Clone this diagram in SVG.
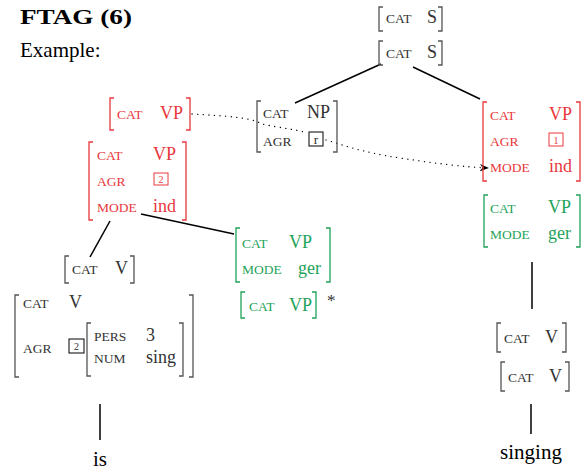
<svg xmlns="http://www.w3.org/2000/svg" width="583" height="472" viewBox="0 0 583 472">
<style>
text{font-family:"Liberation Serif","DejaVu Serif",serif}
.k{font-size:13.5px}
.v{font-size:18px}
.t{font-size:21px}
.g{fill:#333}
.r{fill:#e8383d}
.gr{fill:#1fa35a}
.bg{fill:none;stroke:#555;stroke-width:1.3}
.br{fill:none;stroke:#e8383d;stroke-width:1.3}
.bgr{fill:none;stroke:#1fa35a;stroke-width:1.3}
.e{fill:none;stroke:#000;stroke-width:1.5}
</style>
<defs>
<marker id="ah" viewBox="0 0 10 10" refX="9" refY="5" markerWidth="7" markerHeight="7" orient="auto"><path d="M0,1 L10,5 L0,9 L3,5 Z" fill="#000"/></marker>
</defs>
<rect width="583" height="472" fill="#fff"/>
<g id="title">
<text x="20" y="24" font-size="20" font-weight="bold" textLength="112" lengthAdjust="spacingAndGlyphs">FTAG (6)</text>
<text x="20" y="57" class="t">Example:</text>
</g>
<g id="connectors">
<path class="e" d="M381,64 L295,103"/>
<path class="e" d="M413,67 L480,99"/>
<path class="e" d="M110,221 L90,257"/>
<path class="e" d="M141,214 L234,234"/>
<path class="e" d="M532,262 V309"/>
<path class="e" d="M531,404 V434"/>
<path class="e" d="M100,404 V440"/>
<path d="M192,114 C225,116 250,117 262,124 C280,128 300,130 303,132 M326,140 C340,144 360,152 400,158 C440,164 465,167 488,168" fill="none" stroke="#000" stroke-width="1.3" stroke-dasharray="0.1 5.5" stroke-linecap="round" marker-end="url(#ah)"/>
</g>
<g id="S-top">
<path class="bg" d="M383,7 H379 V31 H383 M438,7 H442 V31 H438"/>
<text x="386" y="23" class="k g">CAT</text>
<text x="427" y="23" class="v g">S</text>
</g>
<g id="S-bot">
<path class="bg" d="M383,41 H379 V65 H383 M438,41 H442 V65 H438"/>
<text x="386" y="58" class="k g">CAT</text>
<text x="427" y="58" class="v g">S</text>
</g>
<g id="VP-foot">
<path class="br" d="M114,98 H110 V130 H114 M186,98 H190 V130 H186"/>
<text x="117" y="119" class="k r">CAT</text>
<text x="160" y="119" class="v r">VP</text>
</g>
<g id="NP">
<path class="bg" d="M261,101 H257 V152 H261 M333,101 H337 V152 H333"/>
<text x="263" y="118" class="k g">CAT</text>
<text x="307" y="118" class="v g">NP</text>
<text x="263" y="146" class="k g">AGR</text>
<rect x="309" y="132" width="14" height="14" fill="#fff" stroke="#000" stroke-width="1"/>
<text x="316" y="144" class="k g" text-anchor="middle">r</text>
</g>
<g id="VP-right">
<path class="br" d="M487,102 H483 V181 H487 M576,102 H580 V181 H576"/>
<text x="490" y="120" class="k r">CAT</text>
<text x="549" y="120" class="v r">VP</text>
<text x="490" y="146" class="k r">AGR</text>
<rect x="549" y="133" width="14" height="13" fill="none" stroke="#e8383d" stroke-width="1"/>
<text x="556" y="144" class="r" text-anchor="middle" font-size="10">1</text>
<text x="490" y="172" class="k r">MODE</text>
<text x="549" y="172" class="v r">ind</text>
</g>
<g id="VP-ger-right">
<path class="bgr" d="M488,195 H484 V247 H488 M576,195 H580 V247 H576"/>
<text x="490" y="213" class="k gr">CAT</text>
<text x="548" y="213" class="v gr">VP</text>
<text x="490" y="239" class="k gr">MODE</text>
<text x="548" y="239" class="v gr">ger</text>
</g>
<g id="V-right1">
<path class="bg" d="M501,323 H497 V352 H501 M562,323 H566 V352 H562"/>
<text x="504" y="343" class="k g">CAT</text>
<text x="545" y="343" class="v g">V</text>
</g>
<g id="V-right2">
<path class="bg" d="M505,362 H501 V391 H505 M565,362 H569 V391 H565"/>
<text x="508" y="382" class="k g">CAT</text>
<text x="549" y="382" class="v g">V</text>
</g>
<g id="singing">
<text x="531" y="459" class="t" text-anchor="middle">singing</text>
</g>
<g id="VP-left">
<path class="br" d="M93,142 H89 V220 H93 M182,142 H186 V220 H182"/>
<text x="97" y="160" class="k r">CAT</text>
<text x="153" y="160" class="v r">VP</text>
<text x="97" y="186" class="k r">AGR</text>
<rect x="154" y="173" width="14" height="12" fill="none" stroke="#e8383d" stroke-width="1"/>
<text x="161" y="183" class="r" text-anchor="middle" font-size="10">2</text>
<text x="97" y="212" class="k r">MODE</text>
<text x="153" y="212" class="v r">ind</text>
</g>
<g id="VP-ger-mid">
<path class="bgr" d="M240,228 H236 V282 H240 M326,228 H330 V282 H326"/>
<text x="242" y="248" class="k gr">CAT</text>
<text x="289" y="248" class="v gr">VP</text>
<text x="242" y="274" class="k gr">MODE</text>
<text x="298" y="274" class="v gr">ger</text>
</g>
<g id="VP-star">
<path class="bgr" d="M245,292 H241 V318 H245 M312,292 H316 V318 H312"/>
<text x="249" y="311" class="k gr">CAT</text>
<text x="289" y="311" class="v gr">VP</text>
<text x="327" y="306" font-size="17" class="g">*</text>
</g>
<g id="V-left">
<path class="bg" d="M69,256 H65 V283 H69 M130,256 H134 V283 H130"/>
<text x="72" y="274" class="k g">CAT</text>
<text x="115" y="274" class="v g">V</text>
</g>
<g id="V-big">
<path class="bg" d="M19,295 H15 V377 H19 M189,295 H193 V377 H189"/>
<text x="23" y="308" class="k g">CAT</text>
<text x="69" y="308" class="v g">V</text>
<text x="23" y="353" class="k g">AGR</text>
<rect x="69" y="339" width="15" height="14" fill="none" stroke="#000" stroke-width="1"/>
<text x="76.5" y="350" class="g" text-anchor="middle" font-size="10">2</text>
<path class="bg" d="M91,323 H87 V376 H91 M179,323 H183 V376 H179"/>
<text x="94" y="341" class="k g">PERS</text>
<text x="146" y="341" class="v g">3</text>
<text x="94" y="363" class="k g">NUM</text>
<text x="146" y="363" class="v g">sing</text>
</g>
<g id="is">
<text x="100" y="466" class="t" text-anchor="middle">is</text>
</g>
</svg>
